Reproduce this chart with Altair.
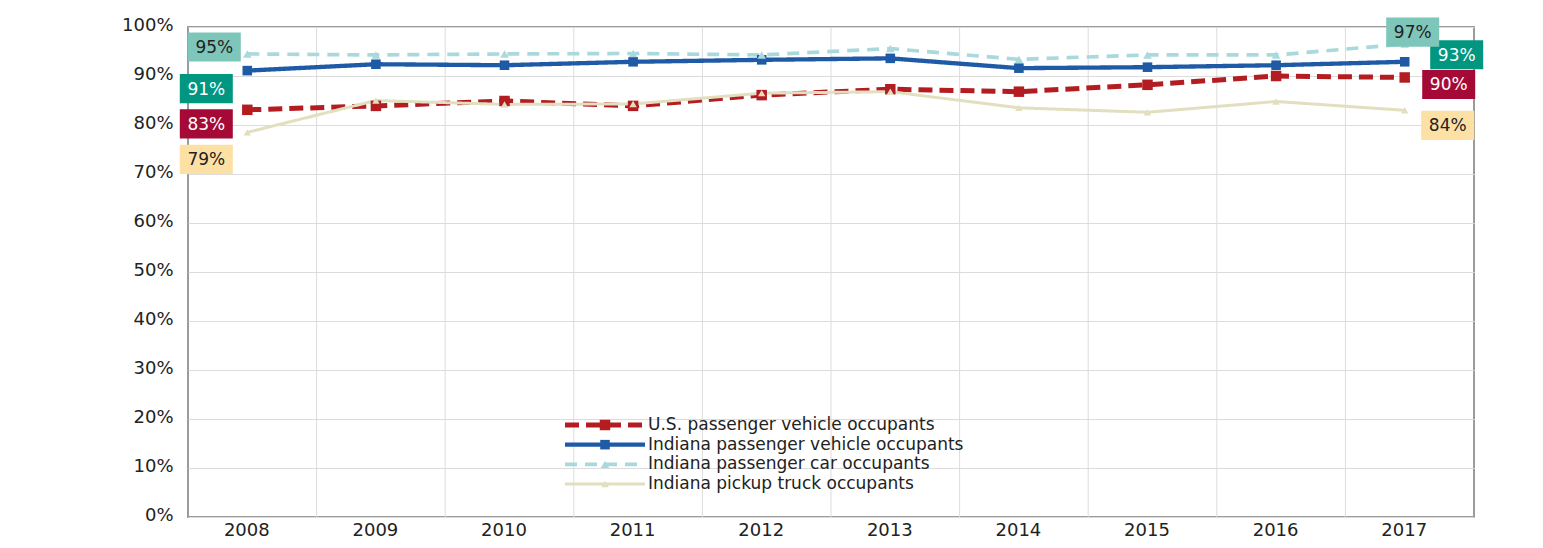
import altair as alt
import pandas as pd

# ---------------- data ----------------
years = [2008, 2009, 2010, 2011, 2012, 2013, 2014, 2015, 2016, 2017]
series_names = [
    "U.S. passenger vehicle occupants",
    "Indiana passenger vehicle occupants",
    "Indiana passenger car occupants",
    "Indiana pickup truck occupants",
]
us_vals = [83.1, 83.9, 84.9, 83.9, 86.1, 87.3, 86.8, 88.2, 90.0, 89.7]
in_pv_vals = [91.1, 92.4, 92.2, 92.9, 93.3, 93.6, 91.6, 91.8, 92.2, 92.9]
in_car_vals = [94.5, 94.3, 94.5, 94.6, 94.3, 95.6, 93.4, 94.3, 94.3, 96.5]
in_pickup_vals = [78.5, 85.0, 84.2, 84.3, 86.5, 86.8, 83.5, 82.6, 84.8, 83.0]
y_ticks = [0, 10, 20, 30, 40, 50, 60, 70, 80, 90, 100]
left_labels = ["83%", "91%", "95%", "79%"]    # in series order
right_labels = ["90%", "93%", "97%", "84%"]   # in series order

# ---------------- styles ----------------
line_colors = ["#b31d22", "#1f5aa6", "#a9d9dd", "#e2dfbf"]
marker_shapes = ["square", "square", "triangle-up", "triangle-up"]
marker_sizes = [110, 55, 100, 100]
dashes = [[14, 7], [1, 0], [12, 8], [1, 0]]
widths = [5, 3, 3, 3]
box_fills = ["#a40a35", "#00967f", "#7fc6ba", "#fde0a4"]
box_text = ["white", "white", "#222222", "#222222"]
# pixel offsets of each value box from its series' end point
left_off = [(-41, 14), (-41, 18), (-33, -7), (-41, 27)]
right_off = [(44, 7), (52, -7), (8, -12), (43, 15)]
# legend block placement (pixels inside the plot area)
LEG_TOP, LEG_BOTTOM = 398, 457
LEG_X1, LEG_X2, LEG_TEXT = 377, 457, 460

FONT = "DejaVu Sans"

rows = []
for name, vals in zip(series_names, [us_vals, in_pv_vals, in_car_vals, in_pickup_vals]):
    for yr, v in zip(years, vals):
        rows.append({"year": yr, "series": name, "value": v})
df = pd.DataFrame(rows)
leg_df = pd.DataFrame({"series": series_names})
grid_df = pd.DataFrame({"b": [y + 0.5 for y in years[:-1]]})

x_scale = alt.Scale(domain=[years[0] - 0.5, years[-1] + 0.5], nice=False, zero=False)
y_scale = alt.Scale(domain=[0, 100], nice=False)
color_scale = alt.Scale(domain=series_names, range=line_colors)
dash_scale = alt.Scale(domain=series_names, range=dashes)
width_scale = alt.Scale(domain=series_names, range=widths)
shape_scale = alt.Scale(domain=series_names, range=marker_shapes)
size_scale = alt.Scale(domain=series_names, range=marker_sizes)
leg_y_scale = alt.Scale(type="point", domain=series_names, range=[LEG_TOP, LEG_BOTTOM], padding=0)

x_axis = alt.Axis(
    values=years, format="d", title=None, grid=False, ticks=False,
    domain=False, labelFont=FONT, labelFontSize=18, labelColor="#222",
    labelPadding=4, labelOffset=-6, labelFlush=False,
)
y_axis = alt.Axis(
    values=y_ticks, labelExpr="datum.value + '%'", title=None, grid=True,
    gridColor="#dcdcdc", gridWidth=1, ticks=False, domain=False,
    labelFont=FONT, labelFontSize=18, labelColor="#222", labelPadding=15,
    labelOffset=-2,
)

vgrid = alt.Chart(grid_df).mark_rule(color="#dcdcdc", strokeWidth=1).encode(
    x=alt.X("b:Q", scale=x_scale, axis=x_axis)
)

lines = alt.Chart(df).mark_line(xOffset=-5, strokeCap="butt").encode(
    x=alt.X("year:Q", scale=x_scale, axis=x_axis),
    y=alt.Y("value:Q", scale=y_scale, axis=y_axis),
    color=alt.Color("series:N", scale=color_scale, legend=None),
    strokeDash=alt.StrokeDash("series:N", scale=dash_scale, legend=None),
    strokeWidth=alt.StrokeWidth("series:N", scale=width_scale, legend=None),
    order=alt.Order("year:Q"),
)

points = alt.Chart(df).mark_point(filled=True, opacity=1, xOffset=-5, strokeWidth=0).encode(
    x=alt.X("year:Q", scale=x_scale),
    y=alt.Y("value:Q", scale=y_scale),
    fill=alt.Fill("series:N", scale=color_scale, legend=None),
    shape=alt.Shape("series:N", scale=shape_scale, legend=None),
    size=alt.Size("series:N", scale=size_scale, legend=None),
)

BOX = "M-1,-0.55L1,-0.55L1,0.55L-1,0.55Z"
ann_layers = []
for i, name in enumerate(series_names):
    for yr, txt, (dx, dy) in [(years[0], left_labels[i], left_off[i]),
                              (years[-1], right_labels[i], right_off[i])]:
        sub = df[(df.series == name) & (df.year == yr)].assign(label=txt)
        base = alt.Chart(sub).encode(
            x=alt.X("year:Q", scale=x_scale),
            y=alt.Y("value:Q", scale=y_scale),
        )
        ann_layers.append(
            base.mark_point(shape=BOX, size=53 * 53, filled=True, opacity=1,
                            color=box_fills[i], strokeWidth=0,
                            xOffset=dx - 5, yOffset=dy)
        )
        ann_layers.append(
            base.mark_text(font=FONT, fontSize=17, color=box_text[i],
                           xOffset=dx - 5, yOffset=dy + 1).encode(text="label:N")
        )

data_layer = alt.layer(vgrid, lines, points, *ann_layers)

# ---- hand-built legend ----
leg_base = alt.Chart(leg_df).encode(
    y=alt.Y("series:N", scale=leg_y_scale, axis=None),
)
leg_lines = leg_base.mark_rule(strokeCap="butt").encode(
    x=alt.value(LEG_X1), x2=alt.value(LEG_X2),
    color=alt.Color("series:N", scale=color_scale, legend=None),
    strokeDash=alt.StrokeDash("series:N", scale=dash_scale, legend=None),
    strokeWidth=alt.StrokeWidth("series:N", scale=width_scale, legend=None),
)
leg_marks = leg_base.mark_point(filled=True, opacity=1, strokeWidth=0).encode(
    x=alt.value((LEG_X1 + LEG_X2) / 2),
    fill=alt.Fill("series:N", scale=color_scale, legend=None),
    shape=alt.Shape("series:N", scale=shape_scale, legend=None),
    size=alt.Size("series:N", scale=size_scale, legend=None),
)
leg_text = leg_base.mark_text(align="left", baseline="middle", font=FONT,
                              fontSize=17, color="#222").encode(
    x=alt.value(LEG_TEXT), text="series:N"
)
legend_layer = alt.layer(leg_lines, leg_marks, leg_text)

chart = alt.layer(data_layer, legend_layer).resolve_scale(
    y="independent"
).properties(
    width=1286,
    height=490,
    autosize=alt.AutoSizeParams(type="none"),
    padding={"left": 180, "top": 19, "right": 60, "bottom": 23},
).configure_view(
    stroke="#9b9b9b", strokeWidth=2
)

chart.save("out.html", embed_options={"renderer": "svg", "actions": False})
